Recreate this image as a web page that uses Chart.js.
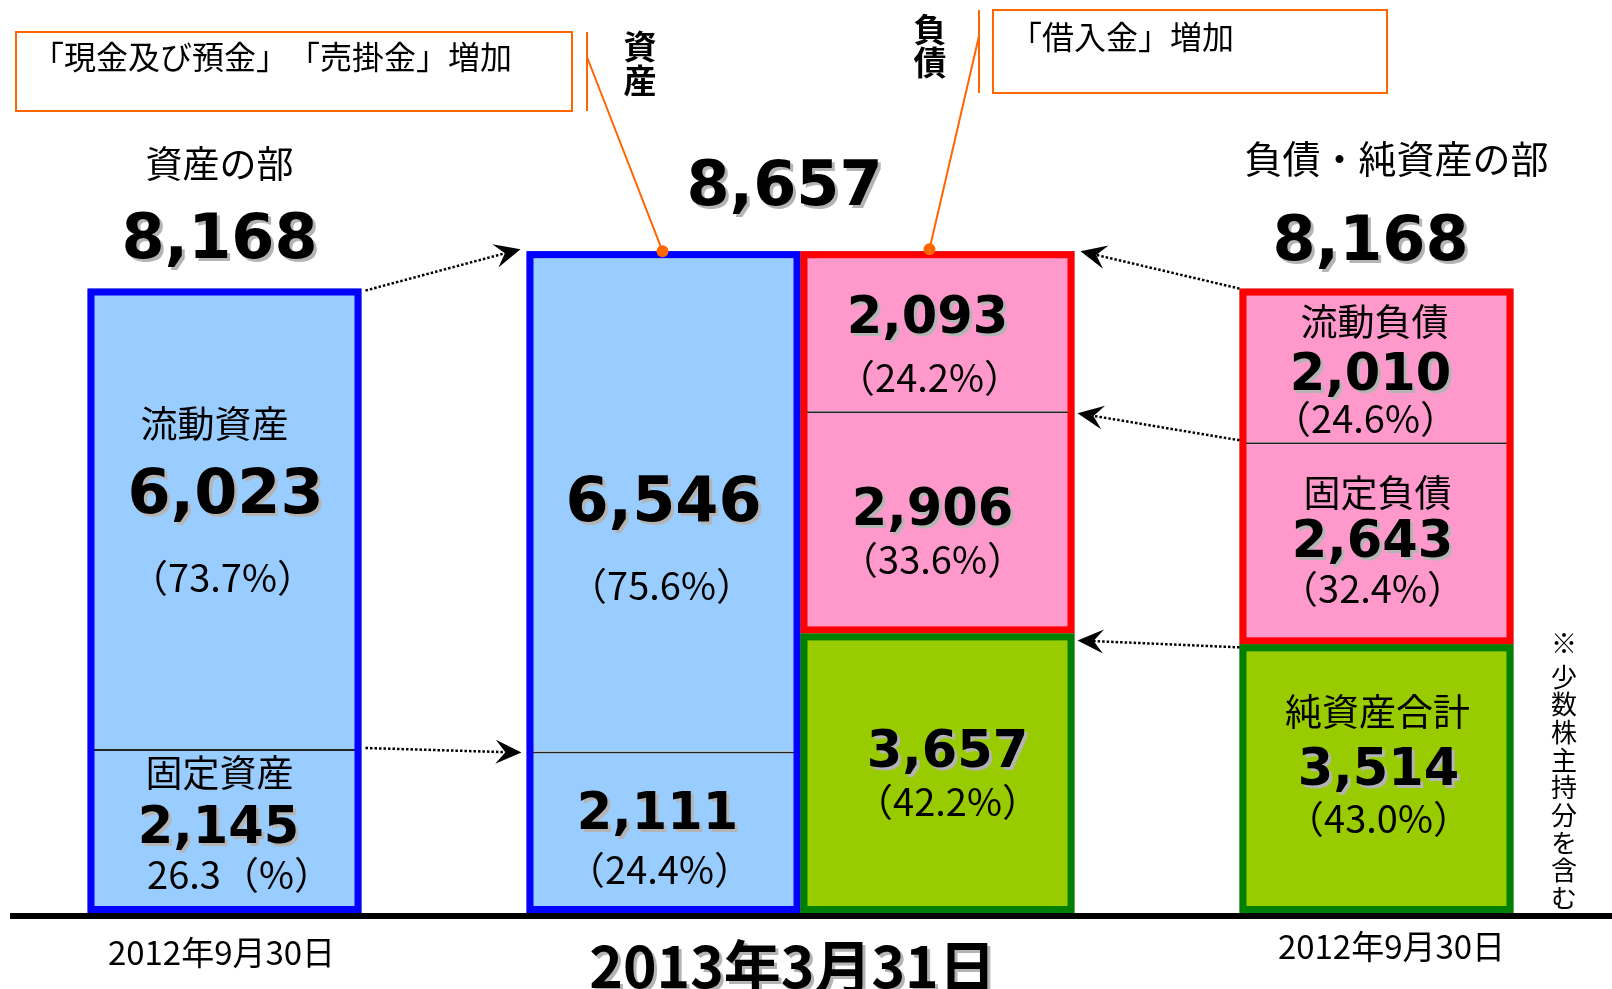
<!DOCTYPE html>
<html>
<head>
<meta charset="utf-8">
<script src="https://cdn.jsdelivr.net/npm/chart.js"></script>
<style>
body { margin: 0; background: #fff; }
#wrap { width: 1612px; height: 989px; position: relative; }
</style>
</head>
<body>
<div id="wrap"><canvas id="bsChart"></canvas></div>
<script>
var dates = ["2012年9月30日", "2013年3月31日", "2012年9月30日"];
var totals = [8168, 8657, 8168];
var fixedAssets = [2145, 2111, null];
var currentAssets = [6023, 6546, null];
var netAssets = [null, 3657, 3514];
var fixedLiabilities = [null, 2906, 2643];
var currentLiabilities = [null, 2093, 2010];
var fixedAssetsPct = ["26.3（%）", "（24.4%）", null];
var currentAssetsPct = ["（73.7%）", "（75.6%）", null];
var netAssetsPct = [null, "（42.2%）", "（43.0%）"];
var fixedLiabPct = [null, "（33.6%）", "（32.4%）"];
var currentLiabPct = [null, "（24.2%）", "（24.6%）"];
var noteAssets = "「現金及び預金」　「売掛金」増加";
var noteLiab = "「借入金」増加";
var noteMinority = "※少数株主持分を含む";

var JP = '"Noto Sans CJK JP", sans-serif';
var NUM = '"DejaVu Sans", sans-serif';
var ORANGE = '#ff6600';

function fmt(v) { return v.toLocaleString('en-US'); }

function txt(ctx, s, x, y, font, shadow, align) {
  ctx.save();
  ctx.font = font;
  ctx.fillStyle = '#000';
  ctx.textAlign = align || 'center';
  ctx.textBaseline = 'middle';
  if (shadow) {
    ctx.shadowColor = '#b4b4b4';
    ctx.shadowOffsetX = 3;
    ctx.shadowOffsetY = 3;
  }
  ctx.fillText(s, x, y);
  ctx.restore();
}

// bold numbers sit a little lower than the CJK text
function num(ctx, v, x, y, size) {
  txt(ctx, fmt(v), x, y + 6, 'bold ' + size + 'px ' + NUM, true);
}

function dottedArrow(ctx, x1, y1, x2, y2) {
  var a = Math.atan2(y2 - y1, x2 - x1);
  var L = 26;
  ctx.save();
  ctx.strokeStyle = '#000';
  ctx.fillStyle = '#000';
  ctx.lineWidth = 2.5;
  ctx.setLineDash([2.5, 2]);
  ctx.beginPath();
  ctx.moveTo(x1, y1);
  ctx.lineTo(x2 - Math.cos(a) * L * 0.6, y2 - Math.sin(a) * L * 0.6);
  ctx.stroke();
  ctx.setLineDash([]);
  ctx.translate(x2, y2);
  ctx.rotate(a);
  ctx.beginPath();
  ctx.moveTo(0, 0);
  ctx.lineTo(-L, -12);
  ctx.lineTo(-L * 0.62, 0);
  ctx.lineTo(-L, 12);
  ctx.closePath();
  ctx.fill();
  ctx.restore();
}

function frame(ctx, left, top, right, bottom, color) {
  var lw = 7;
  ctx.save();
  ctx.strokeStyle = color;
  ctx.lineWidth = lw;
  ctx.strokeRect(left + lw / 2, top + lw / 2, right - left - lw, bottom - top - lw);
  ctx.restore();
}

var balancePlugin = {
  id: 'balance',
  beforeDatasetsDraw: function (chart) {
    var ctx = chart.ctx;
    var y0 = chart.scales.y.getPixelForValue(0);
    ctx.save();
    ctx.fillStyle = '#000';
    ctx.fillRect(10, y0, chart.width - 10, 6);
    ctx.restore();
  },
  afterDatasetsDraw: function (chart) {
    var ctx = chart.ctx;
    function bar(ds, i) {
      return chart.getDatasetMeta(ds).data[i].getProps(['x', 'y', 'base', 'width'], true);
    }
    function edges(b) { return { l: b.x - b.width / 2, r: b.x + b.width / 2 }; }

    // frames around groups
    [0, 1].forEach(function (i) {
      var f = bar(0, i), c = bar(1, i), e = edges(f);
      frame(ctx, e.l, c.y, e.r, f.base, '#0000ff');
    });
    [1, 2].forEach(function (i) {
      var n = bar(2, i), fl = bar(3, i), cl = bar(4, i), e = edges(n);
      frame(ctx, e.l, cl.y, e.r, fl.base, '#ff0000');
      frame(ctx, e.l, n.y, e.r, n.base, '#008000');
    });

    var lf = bar(0, 0), lc = bar(1, 0);
    var mf = bar(0, 1), mc = bar(1, 1);
    var mn = bar(2, 1), mfl = bar(3, 1), mcl = bar(4, 1);
    var rn = bar(2, 2), rfl = bar(3, 2), rcl = bar(4, 2);
    var mid = edges(mc).r;

    // segment texts: [bar, name, dx, yName, value, dxV, yV, big, pct, dxP, yP]
    var segs = [
      [lc, '流動資産', -10, 424, currentAssets[0], 1, 491, true, currentAssetsPct[0], -2, 578],
      [lf, '固定資産', -5, 773, fixedAssets[0], -6, 824, false, fixedAssetsPct[0], 15, 875],
      [mc, null, 0, 0, currentAssets[1], 0, 499, true, currentAssetsPct[1], -2, 586],
      [mf, null, 0, 0, fixedAssets[1], -6, 810, false, fixedAssetsPct[1], -4, 870],
      [mcl, null, 0, 0, currentLiabilities[1], -10, 314, false, currentLiabPct[1], -8, 378],
      [mfl, null, 0, 0, fixedLiabilities[1], -5, 506, false, fixedLiabPct[1], -5, 560],
      [mn, null, 0, 0, netAssets[1], 10, 748, false, netAssetsPct[1], 10, 802],
      [rcl, '流動負債', -2, 322, currentLiabilities[2], -6, 371, false, currentLiabPct[2], -11, 419],
      [rfl, '固定負債', 1, 493, fixedLiabilities[2], -4, 538, false, fixedLiabPct[2], -4, 589],
      [rn, '純資産合計', 1, 712, netAssets[2], 2, 766, false, netAssetsPct[2], 2, 819]
    ];
    segs.forEach(function (s) {
      var b = s[0];
      if (s[1]) txt(ctx, s[1], b.x + s[2], s[3], '37px ' + JP);
      num(ctx, s[4], b.x + s[5], s[6], s[7] ? 62 : 51);
      txt(ctx, s[8], b.x + s[9], s[10], '38px ' + JP);
    });

    // headers and totals
    txt(ctx, '資産の部', lc.x - 5, 164, '37px ' + JP);
    num(ctx, totals[0], lc.x - 5, 236, 62);
    num(ctx, totals[1], mid - 16, 183, 62);
    txt(ctx, '負債・純資産の部', rcl.x + 20, 159, '38px ' + JP);
    num(ctx, totals[2], rcl.x - 6, 238, 62);

    // dates
    txt(ctx, dates[0], lc.x - 3, 952, '33px ' + JP);
    txt(ctx, dates[1], mid - 8, 966, 'bold 57px ' + JP, true);
    txt(ctx, dates[2], rcl.x + 15, 946, '33px ' + JP);

    // vertical captions
    txt(ctx, '資', 640, 46, 'bold 33px ' + JP);
    txt(ctx, '産', 640, 80, 'bold 33px ' + JP);
    txt(ctx, '負', 930, 29, 'bold 33px ' + JP);
    txt(ctx, '債', 930, 62, 'bold 33px ' + JP);
    for (var k = 0; k < noteMinority.length; k++) {
      txt(ctx, noteMinority[k], 1564, 643 + k * 27.7 + (k > 0 ? 6 : 0), '26px ' + JP);
    }

    // dotted arrows
    var le = edges(lc), ma = edges(mc), ml = edges(mcl), re = edges(rcl);
    dottedArrow(ctx, le.r + 4, lc.y + 2, ma.l - 6, mc.y - 2);
    dottedArrow(ctx, le.r + 4, lc.base - 1, ma.l - 5, mc.base + 1);
    dottedArrow(ctx, re.l, rcl.y, ml.r + 6, mcl.y);
    dottedArrow(ctx, re.l, rcl.base - 2, ml.r + 3, mcl.base + 2);
    dottedArrow(ctx, re.l, rn.y + 3, ml.r + 3, mn.y + 7);

    // callouts
    ctx.save();
    ctx.strokeStyle = ORANGE;
    ctx.fillStyle = ORANGE;
    ctx.lineWidth = 2;
    ctx.strokeRect(16, 32, 556, 79);
    ctx.strokeRect(993, 10, 394, 83);
    ctx.beginPath();
    ctx.moveTo(587, 32); ctx.lineTo(587, 111);
    ctx.moveTo(979, 10); ctx.lineTo(979, 93);
    ctx.moveTo(587, 57); ctx.lineTo(mc.x - 1, mc.y);
    ctx.moveTo(979, 36); ctx.lineTo(mcl.x - 8, mcl.y - 2);
    ctx.stroke();
    ctx.beginPath(); ctx.arc(mc.x - 1, mc.y, 6, 0, Math.PI * 2); ctx.fill();
    ctx.beginPath(); ctx.arc(mcl.x - 8, mcl.y - 2, 6, 0, Math.PI * 2); ctx.fill();
    ctx.restore();
    txt(ctx, noteAssets, 32, 57, '32px ' + JP, false, 'left');
    txt(ctx, noteLiab, 1010, 37, '32px ' + JP, false, 'left');
  }
};

var segStyle = { borderColor: '#222', borderWidth: 2, inflateAmount: 0, clip: false };

new Chart("bsChart", {
  type: "bar",
  data: {
    labels: dates,
    datasets: [
      Object.assign({ label: "固定資産", data: fixedAssets, stack: "assets", backgroundColor: "#99ccff" }, segStyle),
      Object.assign({ label: "流動資産", data: currentAssets, stack: "assets", backgroundColor: "#99ccff" }, segStyle),
      Object.assign({ label: "純資産合計", data: netAssets, stack: "liab", backgroundColor: "#99cc00" }, segStyle),
      Object.assign({ label: "固定負債", data: fixedLiabilities, stack: "liab", backgroundColor: "#ff99cc" }, segStyle),
      Object.assign({ label: "流動負債", data: currentLiabilities, stack: "liab", backgroundColor: "#ff99cc" }, segStyle)
    ]
  },
  options: {
    responsive: true,
    maintainAspectRatio: false,
    animation: false,
    devicePixelRatio: 1,
    barThickness: 274,
    layout: { padding: { left: 142, right: 153, top: 72, bottom: 76 } },
    plugins: { legend: { display: false }, tooltip: { enabled: false } },
    scales: {
      x: { display: false, stacked: true },
      y: { display: false, stacked: true, min: 0, max: 11000 }
    }
  },
  plugins: [balancePlugin]
});
</script>
</body>
</html>
